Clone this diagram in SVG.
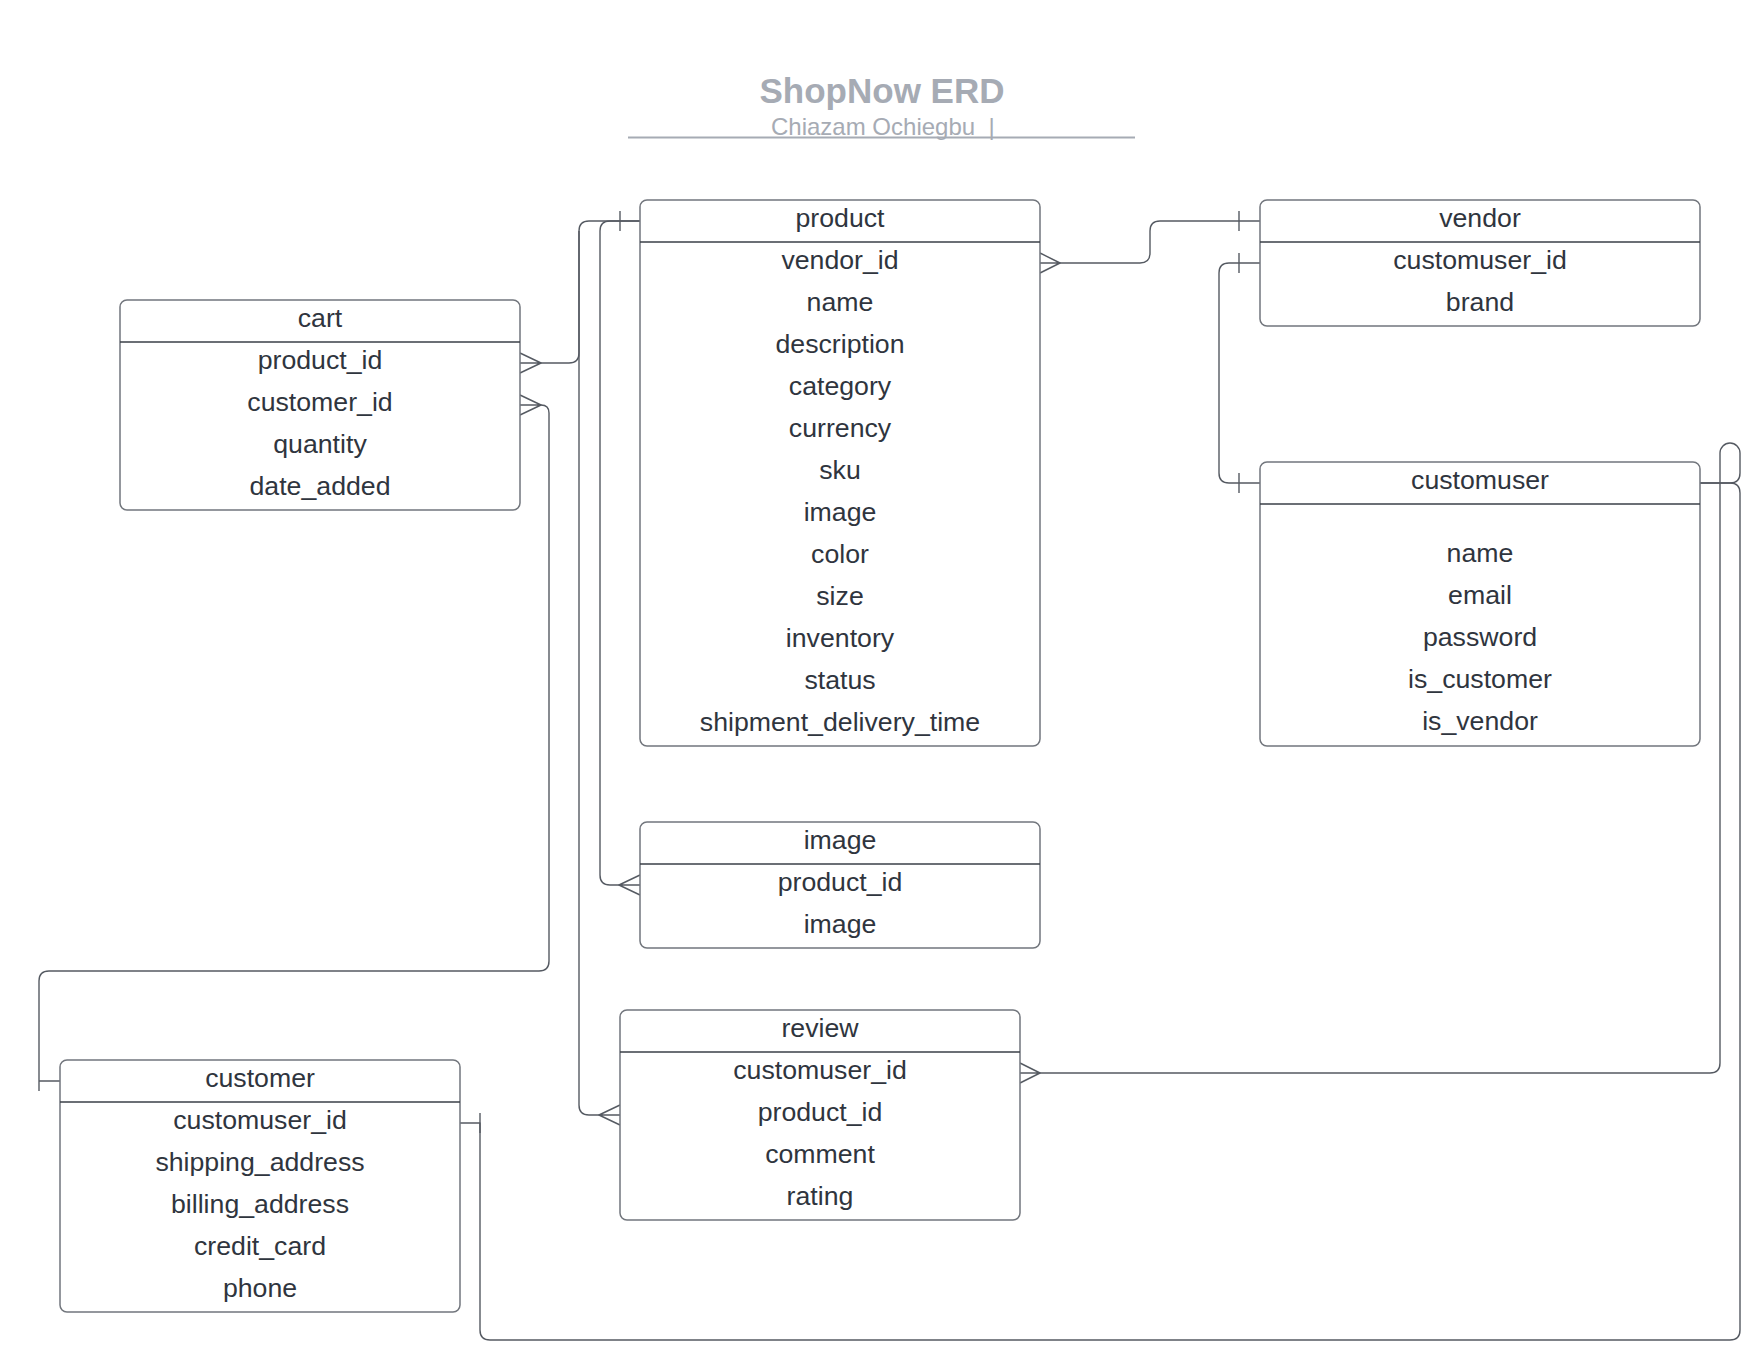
<svg xmlns="http://www.w3.org/2000/svg" width="1760" height="1360" viewBox="0 0 1760 1360">
<style>
.box{fill:#ffffff;stroke:#72767d;stroke-width:1.5}
.div{stroke:#3a3f47;stroke-width:1.4}
.t{font-family:"Liberation Sans",Arial,sans-serif;font-size:26.7px;fill:#2f353e;text-anchor:middle}
.con{fill:none;stroke:#555a62;stroke-width:1.4;stroke-linejoin:round}
.title{font-family:"Liberation Sans",Arial,sans-serif;font-size:35px;font-weight:bold;fill:#a6abb4;text-anchor:middle}
.sub{font-family:"Liberation Sans",Arial,sans-serif;font-size:24px;fill:#a6abb4}
</style>
<rect width="1760" height="1360" fill="#ffffff"/>
<g id="title">
<text class="title" x="882" y="103">ShopNow ERD</text>
<text class="sub" x="771" y="135" xml:space="preserve">Chiazam Ochiegbu  |</text>
<line x1="628" y1="137.5" x2="1135" y2="137.5" stroke="#a6abb4" stroke-width="1.8"/>
</g>
<g id="connectors">
<!-- cart.product_id -> product -->
<path class="con" d="M541,363 H569 Q579,363 579,353 V231 Q579,221 589,221 H640"/>
<path class="con" d="M520,353 L541,363 L520,373 M520,363 H541"/>
<path class="con" d="M620,211 V231"/>
<!-- image.product_id -> product -->
<path class="con" d="M619,885 H610 Q600,885 600,875 V231 Q600,221 610,221 H640"/>
<path class="con" d="M640,875 L619,885 L640,895 M640,885 H619"/>
<!-- review.product_id -> product -->
<path class="con" d="M599,1115 H589 Q579,1115 579,1105 V231"/>
<path class="con" d="M620,1105 L599,1115 L620,1125 M620,1115 H599"/>
<!-- cart.customer_id -> customer -->
<path class="con" d="M541,405 Q549,405 549,413 V961 Q549,971 539,971 H49 Q39,971 39,981 V1091 M39,1081 H60"/>
<path class="con" d="M520,395 L541,405 L520,415 M520,405 H541"/>
<!-- product.vendor_id -> vendor -->
<path class="con" d="M1060,263 H1140 Q1150,263 1150,253 V231 Q1150,221 1160,221 H1260"/>
<path class="con" d="M1040,253 L1060,263 L1040,273 M1040,263 H1060"/>
<path class="con" d="M1239,211 V231"/>
<!-- vendor.customuser_id -> customuser -->
<path class="con" d="M1260,263 H1229 Q1219,263 1219,273 V473 Q1219,483 1229,483 H1260"/>
<path class="con" d="M1239,253 V273 M1239,473 V493"/>
<!-- customuser -> review.customuser_id -->
<path class="con" d="M1700,483 H1730 Q1740,483 1740,473 V453 A10,10 0 0 0 1720,453 V1063 Q1720,1073 1710,1073 H1040"/>
<path class="con" d="M1020,1063 L1040,1073 L1020,1083 M1020,1073 H1040"/>
<!-- customuser -> customer.customuser_id -->
<path class="con" d="M1700,483 H1730 Q1740,483 1740,493 V1330 Q1740,1340 1730,1340 H490 Q480,1340 480,1330 V1123 H460"/>
<path class="con" d="M480,1113 V1133"/>
</g>
<g id="cart">
<rect class="box" x="120" y="300" width="400" height="210" rx="7"/>
<line class="div" x1="120" y1="342" x2="520" y2="342"/>
<text class="t" x="320" y="327">cart</text>
<text class="t" x="320" y="369">product_id</text>
<text class="t" x="320" y="411">customer_id</text>
<text class="t" x="320" y="453">quantity</text>
<text class="t" x="320" y="495">date_added</text>
</g>
<g id="product">
<rect class="box" x="640" y="200" width="400" height="546" rx="7"/>
<line class="div" x1="640" y1="242" x2="1040" y2="242"/>
<text class="t" x="840" y="227">product</text>
<text class="t" x="840" y="269">vendor_id</text>
<text class="t" x="840" y="311">name</text>
<text class="t" x="840" y="353">description</text>
<text class="t" x="840" y="395">category</text>
<text class="t" x="840" y="437">currency</text>
<text class="t" x="840" y="479">sku</text>
<text class="t" x="840" y="521">image</text>
<text class="t" x="840" y="563">color</text>
<text class="t" x="840" y="605">size</text>
<text class="t" x="840" y="647">inventory</text>
<text class="t" x="840" y="689">status</text>
<text class="t" x="840" y="731">shipment_delivery_time</text>
</g>
<g id="vendor">
<rect class="box" x="1260" y="200" width="440" height="126" rx="7"/>
<line class="div" x1="1260" y1="242" x2="1700" y2="242"/>
<text class="t" x="1480" y="227">vendor</text>
<text class="t" x="1480" y="269">customuser_id</text>
<text class="t" x="1480" y="311">brand</text>
</g>
<g id="customuser">
<rect class="box" x="1260" y="462" width="440" height="284" rx="7"/>
<line class="div" x1="1260" y1="504" x2="1700" y2="504"/>
<text class="t" x="1480" y="489">customuser</text>
<text class="t" x="1480" y="562">name</text>
<text class="t" x="1480" y="604">email</text>
<text class="t" x="1480" y="646">password</text>
<text class="t" x="1480" y="688">is_customer</text>
<text class="t" x="1480" y="730">is_vendor</text>
</g>
<g id="image">
<rect class="box" x="640" y="822" width="400" height="126" rx="7"/>
<line class="div" x1="640" y1="864" x2="1040" y2="864"/>
<text class="t" x="840" y="849">image</text>
<text class="t" x="840" y="891">product_id</text>
<text class="t" x="840" y="933">image</text>
</g>
<g id="review">
<rect class="box" x="620" y="1010" width="400" height="210" rx="7"/>
<line class="div" x1="620" y1="1052" x2="1020" y2="1052"/>
<text class="t" x="820" y="1037">review</text>
<text class="t" x="820" y="1079">customuser_id</text>
<text class="t" x="820" y="1121">product_id</text>
<text class="t" x="820" y="1163">comment</text>
<text class="t" x="820" y="1205">rating</text>
</g>
<g id="customer">
<rect class="box" x="60" y="1060" width="400" height="252" rx="7"/>
<line class="div" x1="60" y1="1102" x2="460" y2="1102"/>
<text class="t" x="260" y="1087">customer</text>
<text class="t" x="260" y="1129">customuser_id</text>
<text class="t" x="260" y="1171">shipping_address</text>
<text class="t" x="260" y="1213">billing_address</text>
<text class="t" x="260" y="1255">credit_card</text>
<text class="t" x="260" y="1297">phone</text>
</g>
</svg>
